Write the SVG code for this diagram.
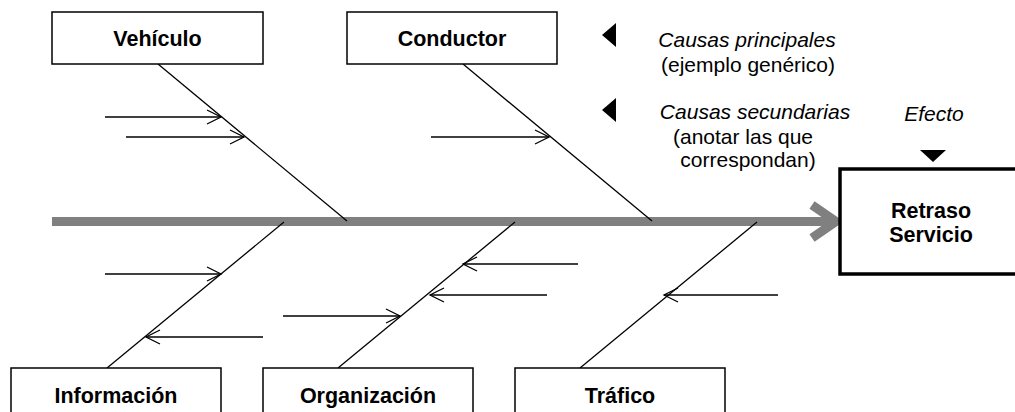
<svg xmlns="http://www.w3.org/2000/svg" width="1015" height="412" viewBox="0 0 1015 412">
<defs>
<style>
.box{fill:#fff;stroke:#000;stroke-width:1.5}
.eff{fill:#fff;stroke:#000;stroke-width:3.5}
.lbl{font-family:"Liberation Sans",Arial,sans-serif;font-size:21.5px;font-weight:bold;text-anchor:middle;fill:#000}
.note{font-family:"Liberation Sans",Arial,sans-serif;font-size:21px;text-anchor:middle;fill:#000}
.it{font-style:italic}
.bone{stroke:#000;stroke-width:1.3;fill:none}
.sub{stroke:#000;stroke-width:1.5;fill:none;marker-end:url(#ah)}
.spine{stroke:#808080;stroke-width:9;fill:none}
.tri{fill:#000}
</style>
<marker id="ah" markerUnits="userSpaceOnUse" markerWidth="18" markerHeight="18" refX="15" refY="8" orient="auto">
<path d="M1,1 L15,8 L1,15" fill="none" stroke="#000" stroke-width="1.3"/>
</marker>
</defs>
<rect width="1015" height="412" fill="#fff"/>
<g id="connectors">
<line class="spine" x1="52" y1="221.5" x2="832" y2="221.5"/>
<polyline class="spine" points="812,205 836,221.5 812,238" stroke-linejoin="miter"/>
<line class="bone" x1="158" y1="64" x2="347" y2="221"/>
<line class="bone" x1="463" y1="64" x2="652" y2="221"/>
<line class="bone" x1="107" y1="368" x2="284" y2="222"/>
<line class="bone" x1="338" y1="368" x2="515" y2="222"/>
<line class="bone" x1="580" y1="368" x2="757" y2="222"/>
<line class="sub" x1="105" y1="117" x2="221" y2="117"/>
<line class="sub" x1="126" y1="137" x2="244" y2="137"/>
<line class="sub" x1="431" y1="137" x2="549" y2="137"/>
<line class="sub" x1="105" y1="274" x2="221" y2="274"/>
<line class="sub" x1="263" y1="337" x2="146" y2="337"/>
<line class="sub" x1="283" y1="316" x2="400" y2="316"/>
<line class="sub" x1="578" y1="264" x2="463" y2="264"/>
<line class="sub" x1="547" y1="295" x2="430" y2="295"/>
<line class="sub" x1="778" y1="295" x2="664" y2="295"/>
</g>
<g id="vehiculo">
<rect class="box" x="52" y="12" width="211" height="52"/>
<text class="lbl" x="157.5" y="46">Vehículo</text>
</g>
<g id="conductor">
<rect class="box" x="347" y="12" width="210" height="52"/>
<text class="lbl" x="452" y="46">Conductor</text>
</g>
<g id="informacion">
<rect class="box" x="11" y="368" width="210" height="60"/>
<text class="lbl" x="116" y="403">Información</text>
</g>
<g id="organizacion">
<rect class="box" x="263" y="368" width="210" height="60"/>
<text class="lbl" x="368" y="403">Organización</text>
</g>
<g id="trafico">
<rect class="box" x="515" y="368" width="210" height="60"/>
<text class="lbl" x="620" y="403">Tráfico</text>
</g>
<g id="efecto">
<rect class="eff" x="840" y="169" width="182" height="105"/>
<text class="lbl" x="931" y="218">Retraso</text>
<text class="lbl" x="931" y="242">Servicio</text>
</g>
<g id="leyenda">
<polygon class="tri" points="602,35 616,23 616,47"/>
<polygon class="tri" points="602,110 616,98 616,122"/>
<polygon class="tri" points="920,150 946,150 933,162"/>
<text class="note it" x="747" y="47">Causas principales</text>
<text class="note" x="748" y="72">(ejemplo genérico)</text>
<text class="note it" x="755" y="119">Causas secundarias</text>
<text class="note" x="743" y="144">(anotar las que</text>
<text class="note" x="748" y="167">correspondan)</text>
<text class="note it" x="934" y="121">Efecto</text>
</g>
</svg>
